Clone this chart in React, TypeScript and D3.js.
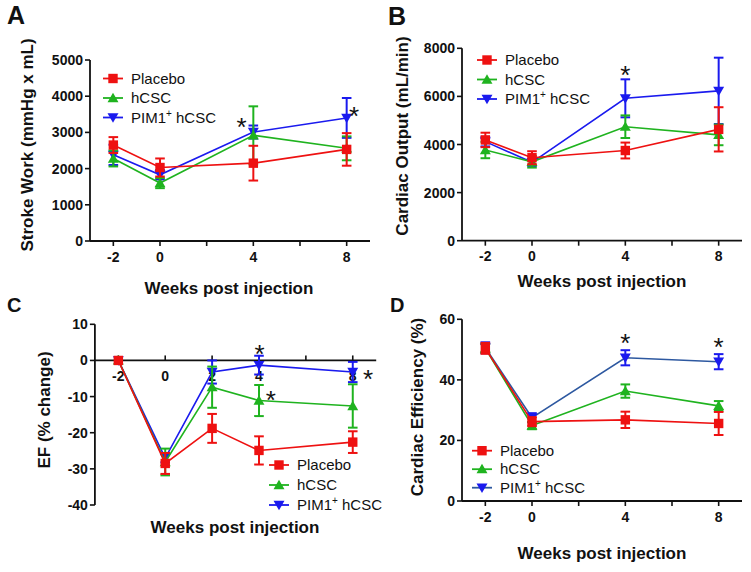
import React from "react";
import * as d3 from "d3";

const FONT = "'Liberation Sans', Arial, Helvetica, sans-serif";

// ---------- data ----------
const weeks = [-2, 0, 4, 8];
const weeksEF = [-2, 0, 2, 4, 8];
const seriesNames = ["Placebo", "hCSC", "PIM1"];

// A: Stroke work
const swPlacebo = [2650, 2030, 2150, 2530];
const swPlaceboErr = [220, 250, 480, 450];
const swHcsc = [2280, 1600, 2920, 2560];
const swHcscErr = [220, 140, 800, 330];
const swPim = [2380, 1830, 3010, 3400];
const swPimErr = [280, 130, 180, 550];

// B: Cardiac output
const coPlacebo = [4190, 3450, 3750, 4630];
const coPlaceboErr = [300, 270, 330, 920];
const coHcsc = [3770, 3280, 4740, 4400];
const coHcscErr = [340, 240, 470, 430];
const coPim = [4120, 3260, 5920, 6230];
const coPimErr = [200, 150, 790, 1380];

// C: EF % change
const efPlacebo = [0, -28.5, -18.8, -24.9, -22.6];
const efPlaceboErr = [0, 2.9, 4.0, 3.9, 3.0];
const efHcsc = [0, -28.1, -7.4, -11.1, -12.6];
const efHcscErr = [0, 3.7, 5.7, 4.3, 6.0];
const efPim = [0, -27.0, -3.2, -1.3, -3.2];
const efPimErr = [0, 1.2, 3.2, 2.6, 2.8];

// D: Cardiac efficiency
const cePlacebo = [50.4, 26.2, 26.8, 25.6];
const cePlaceboErr = [1.8, 1.5, 2.7, 3.8];
const ceHcsc = [50.4, 24.9, 36.3, 31.4];
const ceHcscErr = [1.5, 1.2, 2.2, 1.6];
const cePim = [50.6, 27.5, 47.3, 46.0];
const cePimErr = [1.8, 1.5, 2.5, 2.5];

// ticks
const xTickValues = [-2, 0, 2, 4, 6, 8];
const xTickLabels = [-2, 0, 4, 8];
const xTickLabelsEF = [-2, 0, 2, 4, 8];
const swTicks = [0, 1000, 2000, 3000, 4000, 5000];
const coTicks = [0, 2000, 4000, 6000, 8000];
const efTicks = [-40, -30, -20, -10, 0, 10];
const ceTicks = [0, 20, 40, 60];

// significance marks [week, value]
const swStars = [[3.5, 3320], [8.32, 3620]];
const coStars = [[4, 7120]];
const efStars = [[4.02, 3.4], [4.5, -9.2], [8.65, -3.6]];
const ceStars = [[4, 54.0], [8, 52.8]];

// ---------- styles ----------
const RED = "#ee1111";
const GREEN = "#1fb31f";
const BLUE = "#1a1aee";
const colors = [RED, GREEN, BLUE];

function Txt({ x, y, size, weight = "normal", anchor = "start", rotate = 0, children }: any) {
  return (
    <text
      transform={`translate(${x},${y}) rotate(${rotate})`}
      fontFamily={FONT}
      fontSize={size}
      fontWeight={weight}
      textAnchor={anchor}
      fill="#111"
    >
      {children}
    </text>
  );
}

function Marker({ kind, x, y, color }: any) {
  if (kind === 0) return <rect x={x - 4.7} y={y - 4.7} width={9.4} height={9.4} fill={color} />;
  const p = d3.symbol(d3.symbolTriangle, 52)() as string;
  return <path d={p} transform={`translate(${x},${y + (kind === 2 ? -1 : 1)}) rotate(${kind === 2 ? 180 : 0})`} fill={color} />;
}

function PimLabel() {
  return (
    <>
      <tspan>PIM1</tspan>
      <tspan dy={-6} fontSize={10}>+</tspan>
      <tspan dy={6}> hCSC</tspan>
    </>
  );
}

function Panel({ cfg }: any) {
  const x = d3.scaleLinear().domain([-3, 9]).range(cfg.xr);
  const y = d3.scaleLinear().domain(cfg.yd).range(cfg.yr);
  const axisY = cfg.xAxisAt !== undefined ? y(cfg.xAxisAt) : y(cfg.yd[0]);
  const x0 = x(-3);
  const tickDir = cfg.ticksUp ? -5 : 5;
  const line = d3.line<[number, number]>().x((d) => x(d[0])).y((d) => y(d[1]));
  const order = [2, 1, 0];
  return (
    <g>
      {/* axes */}
      <line x1={x0} x2={x0} y1={y(cfg.yd[0])} y2={y(cfg.yd[1])} stroke="#111" strokeWidth={1.8} />
      <line x1={x0} x2={x(9)} y1={axisY} y2={axisY} stroke="#111" strokeWidth={1.8} />
      {cfg.yTicks.map((t: number) => (
        <g key={"y" + t}>
          <line x1={x0 - 5} x2={x0} y1={y(t)} y2={y(t)} stroke="#111" strokeWidth={1.6} />
          <Txt x={x0 - 7} y={y(t) + 5} size={14} weight="bold" anchor="end">{t}</Txt>
        </g>
      ))}
      {xTickValues.map((t) => (
        <line key={"xt" + t} x1={x(t)} x2={x(t)} y1={axisY} y2={axisY + tickDir} stroke="#111" strokeWidth={1.6} />
      ))}
      {cfg.xLabels.map((t: number) => (
        <Txt key={"xl" + t} x={x(t)} y={axisY + 20.5} size={14} weight="bold" anchor="middle">{t}</Txt>
      ))}
      {/* series */}
      {order.map((si) => {
        const vals = cfg.vals[si];
        const errs = cfg.errs[si];
        const pts = cfg.weeks.map((w: number, i: number) => [w, vals[i]] as [number, number]);
        const lc = si === 2 && cfg.pimLine ? cfg.pimLine : colors[si];
        return (
          <g key={"s" + si}>
            <path d={line(pts) as string} fill="none" stroke={lc} strokeWidth={1.6} />
            {pts.map((p: [number, number], i: number) =>
              errs[i] > 0 ? (
                <g key={"e" + i} stroke={colors[si]} strokeWidth={2}>
                  <line x1={x(p[0])} x2={x(p[0])} y1={y(p[1] - errs[i])} y2={y(p[1] + errs[i])} />
                  <line x1={x(p[0]) - 4.8} x2={x(p[0]) + 4.8} y1={y(p[1] - errs[i])} y2={y(p[1] - errs[i])} />
                  <line x1={x(p[0]) - 4.8} x2={x(p[0]) + 4.8} y1={y(p[1] + errs[i])} y2={y(p[1] + errs[i])} />
                </g>
              ) : null
            )}
            {pts.map((p: [number, number], i: number) => (
              <Marker key={"m" + i} kind={si} x={x(p[0])} y={y(p[1])} color={colors[si]} />
            ))}
          </g>
        );
      })}
      {/* stars */}
      {cfg.stars.map((s: number[], i: number) => (
        <Txt key={"st" + i} x={x(s[0])} y={y(s[1]) + 15} size={26} anchor="middle">*</Txt>
      ))}
      {/* legend */}
      {seriesNames.map((n, i) => {
        const ly = cfg.legend[1] + i * cfg.legend[2];
        const lx = cfg.legend[0];
        const lc = i === 2 && cfg.pimLine ? cfg.pimLine : colors[i];
        return (
          <g key={"lg" + i}>
            <line x1={lx} x2={lx + 20} y1={ly} y2={ly} stroke={lc} strokeWidth={1.8} />
            <Marker kind={i} x={lx + 10} y={ly} color={colors[i]} />
            <Txt x={lx + 28} y={ly + 5.2} size={15}>{i === 2 ? <PimLabel /> : n}</Txt>
          </g>
        );
      })}
      {/* titles */}
      <Txt x={cfg.xTitle[0]} y={cfg.xTitle[1]} size={17} weight="bold" anchor="middle">Weeks post injection</Txt>
      <Txt x={cfg.yTitle[0]} y={cfg.yTitle[1]} size={17} weight="bold" anchor="middle" rotate={-90}>{cfg.yTitleText}</Txt>
      <Txt x={cfg.letter[0]} y={cfg.letter[1]} size={cfg.letter[3]} weight="bold">{cfg.letter[2]}</Txt>
    </g>
  );
}

const panels = [
  {
    xr: [90, 370], yd: [0, 5000], yr: [241, 60], yTicks: swTicks, xLabels: xTickLabels, weeks,
    vals: [swPlacebo, swHcsc, swPim], errs: [swPlaceboErr, swHcscErr, swPimErr], stars: swStars,
    legend: [103, 78.5, 19.5], xTitle: [229, 294], yTitle: [33, 145], yTitleText: "Stroke Work  (mmHg x mL)",
    letter: [7, 24, "A", 25],
  },
  {
    xr: [462, 742], yd: [0, 8000], yr: [240.7, 48.3], yTicks: coTicks, xLabels: xTickLabels, weeks,
    vals: [coPlacebo, coHcsc, coPim], errs: [coPlaceboErr, coHcscErr, coPimErr], stars: coStars,
    legend: [477, 60, 19.5], xTitle: [602, 287], yTitle: [408, 136], yTitleText: "Cardiac Output (mL/min)",
    letter: [388, 25, "B", 25],
  },
  {
    xr: [94.9, 376.2], yd: [-40, 10], yr: [505, 324.3], yTicks: efTicks, xLabels: xTickLabelsEF, weeks: weeksEF,
    xAxisAt: 0, ticksUp: true,
    vals: [efPlacebo, efHcsc, efPim], errs: [efPlaceboErr, efHcscErr, efPimErr], stars: efStars,
    legend: [269, 465, 20], xTitle: [235, 533], yTitle: [50, 410], yTitleText: "EF (% change)",
    letter: [7, 312, "C", 20],
  },
  {
    xr: [462, 742], yd: [0, 60], yr: [501, 319.3], yTicks: ceTicks, xLabels: xTickLabels, weeks,
    pimLine: "#2d58a0",
    vals: [cePlacebo, ceHcsc, cePim], errs: [cePlaceboErr, ceHcscErr, cePimErr], stars: ceStars,
    legend: [472, 450.7, 18.5], xTitle: [602, 559], yTitle: [423, 407], yTitleText: "Cardiac Efficiency (%)",
    letter: [390, 312, "D", 20],
  },
];

export default function App() {
  return (
    <svg width={751} height={572} style={{ position: "absolute", left: 0, top: 0, background: "#fff" }}>
      <rect width={751} height={572} fill="#fff" />
      {panels.map((p, i) => (
        <Panel key={i} cfg={p} />
      ))}
    </svg>
  );
}
